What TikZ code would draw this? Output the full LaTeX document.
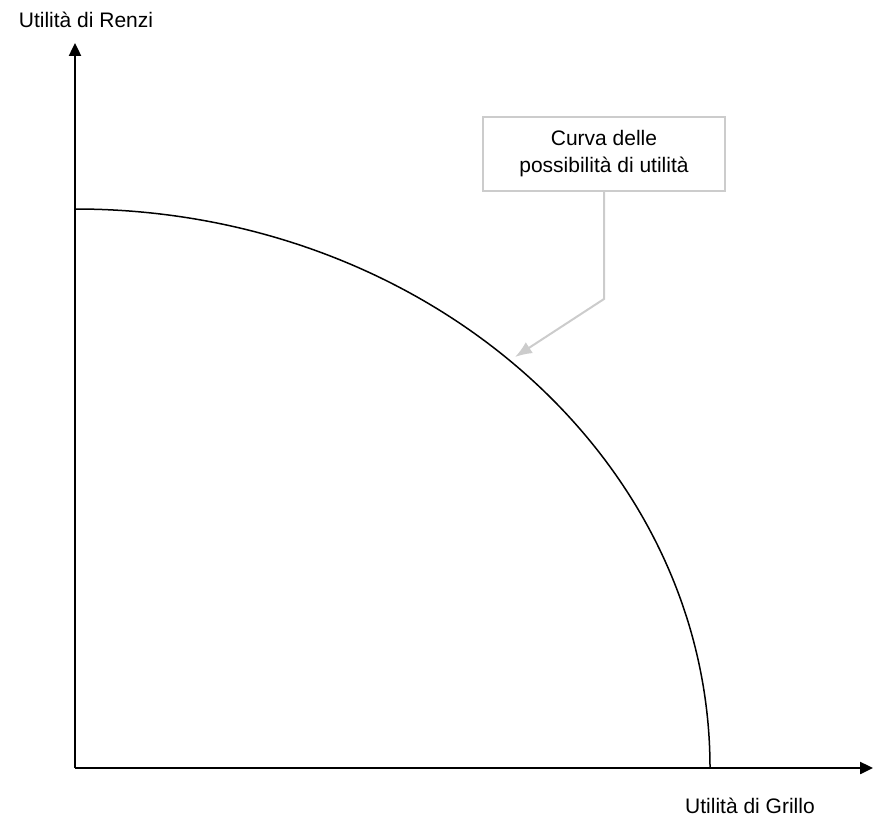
\documentclass[tikz,border=0pt]{standalone}
\usepackage{fontspec}
\setmainfont{Liberation Sans}
\usetikzlibrary{positioning,arrows.meta,calc}
\definecolor{calloutgray}{RGB}{204,204,204}
\tikzset{
  axis/.style={line width=2.4pt, -{Triangle[length=13pt,width=12pt]}},
  frontier/.style={line width=1.5pt},
  callout/.style={draw=calloutgray, line width=2pt, fill=white, align=center, minimum width=242pt, minimum height=74pt, inner sep=0pt, font=\fontsize{21}{27}\selectfont},
  pointer/.style={calloutgray, line width=2pt, -{Latex[length=17pt,width=13pt]}},
  axlabel/.style={anchor=base, font=\fontsize{21}{25}\selectfont}
}
\begin{document}
\begin{tikzpicture}[x=1pt, y=-1pt]
  \useasboundingbox (0,0) rectangle (874,818);
  \coordinate (O) at (75,768);
  \coordinate (ytip) at (75,43);
  \coordinate (xtip) at (873,768);
  \node[axlabel] (ulabel) at (86,28) {Utilità di Renzi};
  \node[axlabel] (glabel) at (750,813) {Utilità di Grillo};
  \draw[axis] (O) -- (ytip);
  \draw[axis] (O) -- (xtip);
  % quarter of an ellipse from the y axis to the x axis
  \draw[frontier] (75,209) arc[start angle=90, end angle=0, x radius=635, y radius=-559];
  \node[callout] (box) at (604,154) {Curva delle\\possibilità di utilità};
  \coordinate (bend) at (604,299);
  \coordinate (hit) at (515,357);
  \draw[pointer] (box.south) -- (bend) -- (hit);
\end{tikzpicture}
\end{document}
